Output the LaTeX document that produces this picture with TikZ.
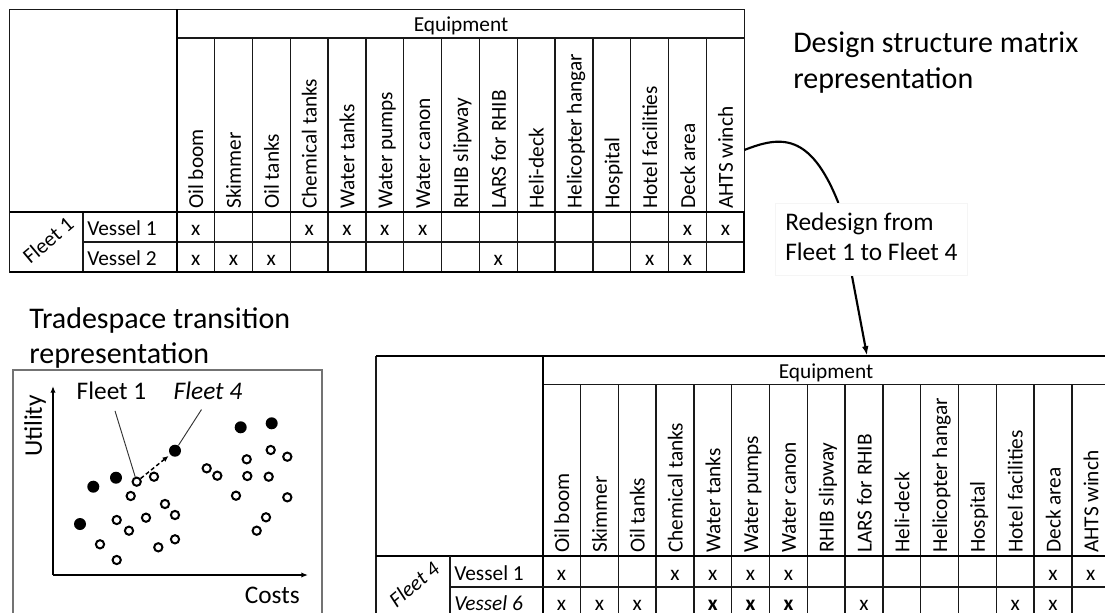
\documentclass[tikz,border=0pt]{standalone}
\usepackage{fontspec}
\setmainfont{Carlito}
\usetikzlibrary{arrows.meta}
\newcommand\tabfont{\fontsize{16}{19}\selectfont}
\newcommand\titlefont{\fontsize{22.5}{27}\selectfont}
\newcommand\tradefont{\fontsize{22.5}{26.25}\selectfont}
\newcommand\labfont{\fontsize{19}{22.5}\selectfont}
\newcommand\plotfont{\fontsize{19}{22}\selectfont}
\begin{document}
\begin{tikzpicture}[x=0.75pt,y=-0.75pt,
  thinln/.style={line width=1pt, draw=black!90},
  thickln/.style={line width=1.5pt, draw=black},
  hdr/.style={rotate=90, anchor=base west, inner sep=0pt, font=\tabfont},
  cellx/.style={anchor=base, inner sep=0pt, font=\tabfont},
  rowlab/.style={anchor=base west, inner sep=0pt, font=\tabfont},
  opn/.style={circle, draw, line width=1.5pt, minimum size=6.2pt, inner sep=0pt},
  sld/.style={circle, fill, minimum size=9pt, inner sep=0pt},
  ptr/.style={line width=0.7pt, draw=black!80},
  axisln/.style={line width=1.5pt, -{Latex[length=5pt,width=4pt]}},
  conn/.style={line width=1.6pt, -{Latex[length=7pt,width=5pt]}},
  titletext/.style={anchor=base west, inner sep=0pt}
]
\useasboundingbox (0,0) rectangle (1105,613);
\fill[white] (0,0) rectangle (1105,613);
\clip (0,0) rectangle (1105,613);

% ---------------- top table ----------------
\draw[thinln] (9.5,9.5) rectangle (744.3,272);
\draw[thinln] (176.7,38) -- (744.3,38);
\foreach \i in {1,...,14} \draw[thinln] ({176.7+37.84*\i},38) -- ({176.7+37.84*\i},272);
\draw[thinln] (83,212) -- (83,272);
\draw[thinln] (83,242) -- (744.3,242);
\draw[thickln] (176.7,9.5) -- (176.7,272);
\draw[thickln] (9.5,212) -- (744.3,212);
\draw[thickln] (176.7,212) rectangle (744.3,272);
\draw[thickln] (9.5,272) -- (176.7,272);

\node[anchor=base, inner sep=0pt, font=\tabfont] (teq) at (461,31.5) {Equipment};
\foreach \n [count=\i] in {Oil boom,Skimmer,Oil tanks,Chemical tanks,Water tanks,Water pumps,Water canon,RHIB slipway,LARS for RHIB,Heli-deck,Helicopter hangar,Hospital,Hotel facilities,Deck area,AHTS winch}
  \node[hdr] (th\i) at ({176.7+37.84*(\i-0.5)+7.5},209) {\n};
\node[rowlab] (tv1) at (87,235.5) {Vessel 1};
\node[rowlab] (tv2) at (87,265) {Vessel 2};
\node[rotate=40, inner sep=0pt, font=\tabfont] (tf1) at (48,240) {Fleet 1};
\foreach \c in {1,4,5,6,7,14,15}
  \node[cellx] (ta-\c) at ({176.7+37.84*(\c-0.5)},235.5) {x};
\foreach \c in {1,2,3,9,13,14}
  \node[cellx] (tb-\c) at ({176.7+37.84*(\c-0.5)},265) {x};

% ---------------- bottom table ----------------
\draw[thinln] (376,355.5) -- (376,625);
\draw[thickln] (376,355.5) -- (1109.7,355.5);
\draw[thinln] (542.7,384.5) -- (1109.7,384.5);
\foreach \i in {1,...,15} \draw[thinln] ({542.7+37.8*\i},384.5) -- ({542.7+37.8*\i},625);
\draw[thickln] (542.7,355.5) -- (542.7,625);
\draw[thickln] (376,556) -- (1109.7,556);
\draw[thinln] (450,556) -- (450,625);
\draw[thinln] (450,587) -- (1109.7,587);

\node[anchor=base, inner sep=0pt, font=\tabfont] (beq) at (826,378.5) {Equipment};
\foreach \n [count=\i] in {Oil boom,Skimmer,Oil tanks,Chemical tanks,Water tanks,Water pumps,Water canon,RHIB slipway,LARS for RHIB,Heli-deck,Helicopter hangar,Hospital,Hotel facilities,Deck area,AHTS winch}
  \node[hdr] (bh\i) at ({542.7+37.8*(\i-0.5)+7.5},553) {\n};
\node[rowlab] (bv1) at (454,580.5) {Vessel 1};
\node[rowlab] (bv6) at (454,610.5) {\itshape Vessel 6};
\node[rotate=40, inner sep=0pt, font=\tabfont\itshape] (bf4) at (414,584) {Fleet 4};
\foreach \c in {1,4,5,6,7,14,15}
  \node[cellx] (ba-\c) at ({542.7+37.8*(\c-0.5)},580) {x};
\foreach \c in {1,2,3,9,13,14}
  \node[cellx] (bb-\c) at ({542.7+37.8*(\c-0.5)},610.5) {x};
\foreach \c in {5,6,7}
  \node[cellx, font=\tabfont\bfseries] (bb-\c) at ({542.7+37.8*(\c-0.5)},610.5) {x};

% ---------------- titles ----------------
\node[titletext, font=\titlefont] (dsm) at (793,53)
  {\begin{tabular}[t]{@{}l@{}}Design structure matrix\\representation\end{tabular}};
\node[titletext, font=\tradefont] (tst) at (29,328)
  {\begin{tabular}[t]{@{}l@{}}Tradespace transition\\representation\end{tabular}};

% ---------------- connector ----------------
\coordinate (tr) at (744.3,150);
\coordinate (bt) at (867,355.5);
\draw[conn] (tr) .. controls (780,136) and (810,132) .. (838,202) -- (bt);
\node[anchor=base west, fill=white, draw=black!4, inner xsep=7.5pt, inner ysep=4.5pt, font=\labfont] (redesign) at (775,230.7)
  {\begin{tabular}[t]{@{}l@{}}Redesign from\\Fleet 1 to Fleet 4\end{tabular}};

% ---------------- tradespace plot ----------------
\draw[line width=0.8pt, draw=black!55] (13,370) rectangle (322,630);
\coordinate (org) at (53,575);
\coordinate (ytip) at (53,386);
\coordinate (xtip) at (308,575);
\draw[axisln] (org) -- (ytip);
\draw[axisln] (org) -- (xtip);
\node[rotate=90, inner sep=0pt, font=\plotfont] (util) at (35,426) {Utility};
\node[anchor=base east, inner sep=0pt, font=\plotfont] (costs) at (300,603) {Costs};
\node[anchor=base, inner sep=0pt, font=\plotfont] (f1lab) at (111.5,399) {Fleet 1};
\node[anchor=base, inner sep=0pt, font=\plotfont\itshape] (f4lab) at (208,399) {Fleet 4};

\foreach \x/\y [count=\k] in {80/524, 93.3/486.7, 116/477.7, 240.7/427.3, 271.7/423.3}
  \node[sld] (s\k) at (\x,\y) {};
\node[sld] (f4d) at (175,450.7) {};
\foreach \x/\y [count=\k] in {154/476.7, 130.7/496, 165/504, 175/515, 146/517.7, 116.7/520, 129/530.7, 100/544.3, 116.7/560, 158.3/547.3, 175/539.3, 206.7/468.3, 217.3/475.7, 246.7/459.3, 270.7/450, 287.3/456.7, 247.3/476, 268.7/476.7, 236/495.7, 287.3/497.3, 266/517.3, 256.7/530.7}
  \node[opn] (o\k) at (\x,\y) {};
\node[opn] (f1c) at (136.7,481.7) {};

\draw[ptr, shorten <=9pt] (f1lab.south) -- (f1c);
\draw[ptr, shorten <=9pt] (f4lab.south) -- (f4d);
\draw[line width=1.1pt, dash pattern=on 3pt off 2pt, -{Latex[length=4.5pt,width=4pt]}, shorten >=1.5pt] (f1c) -- (f4d);
\end{tikzpicture}
\end{document}
